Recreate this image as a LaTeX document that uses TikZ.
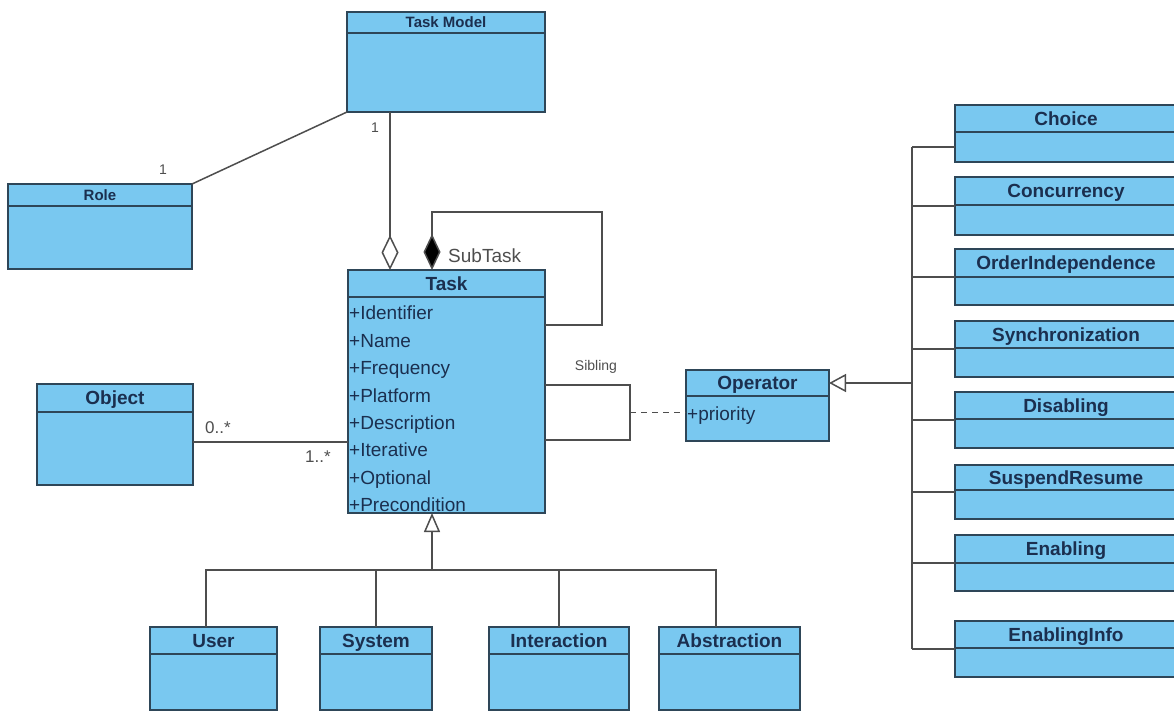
\documentclass[tikz,border=0pt]{standalone}
\usepackage{fontspec}
\setmainfont{Liberation Sans}
\usetikzlibrary{arrows.meta}

\definecolor{boxfill}{HTML}{79C8F0}
\definecolor{boxline}{HTML}{2E4658}
\definecolor{ink}{HTML}{1B2F4F}
\definecolor{wire}{HTML}{4E4E4E}

\newcommand{\bigtitle}{\bfseries\fontsize{19}{22}\selectfont}
\newcommand{\smalltitle}{\bfseries\fontsize{15}{18}\selectfont}

% #1 name, #2 x1, #3 y1, #4 x2, #5 y2, #6 header height, #7 title, #8 title font,
% #9 drop from header middle to the title baseline
\newcommand{\umlclass}[9]{%
  \node[classbox, minimum width={(#4)-(#2)}, minimum height={(#5)-(#3)},
        anchor=north west] (#1) at (#2,-#3) {};
  \draw[boxrule] ([yshift=-#6pt]#1.north west) -- ([yshift=-#6pt]#1.north east);
  \node[titletext, font=#8, anchor=base] (#1-title)
    at ([yshift=-#6pt/2-#9pt]#1.north) {#7};
}
\newcommand{\bigclass}[7]{\umlclass{#1}{#2}{#3}{#4}{#5}{#6}{#7}{\bigtitle}{6.8}}

\tikzset{
  classbox/.style={draw=boxline, fill=boxfill, line width=1.6pt,
                   inner sep=0pt, outer sep=0pt},
  boxrule/.style={draw=boxline, line width=1.6pt},
  titletext/.style={text=ink, inner sep=0pt},
  attr/.style={text=ink, inner sep=0pt, anchor=base west,
               font=\fontsize{19}{22}\selectfont},
  link/.style={draw=wire, line width=1.5pt},
  gen/.style={link, -{Triangle[open, length=17pt, width=18pt, fill=white]}},
  genup/.style={link, -{Triangle[open, length=19pt, width=16pt, fill=white]}},
  agg/.style={link, -{Diamond[open, length=35pt, width=17pt, fill=white]}},
  comp/.style={link, -{Diamond[length=36pt, width=17pt, fill=black]}},
  role/.style={text=wire, inner sep=0pt, font=\fontsize{14}{16}\selectfont},
  mult/.style={text=wire, inner sep=0pt, font=\fontsize{17}{19}\selectfont},
}

\begin{document}
\begin{tikzpicture}[x=1pt, y=1pt]
\clip (0,0) rectangle (1174,-713);
\fill[white] (0,0) rectangle (1174,-713);

% classes
\umlclass{taskmodel}{347}{12}{545}{112}{21}{Task Model}{\smalltitle}{5.4}
\umlclass{role}{8}{184}{192}{269}{22}{Role}{\smalltitle}{5.4}
\bigclass{task}{348}{270}{545}{513}{27}{Task}
\bigclass{object}{37}{384}{193}{485}{28}{Object}
\bigclass{operator}{686}{370}{829}{441}{26}{Operator}

\bigclass{choice}{955}{105}{1177}{162}{27}{Choice}
\bigclass{concurrency}{955}{177}{1177}{235}{28}{Concurrency}
\bigclass{orderind}{955}{249}{1177}{305}{28}{OrderIndependence}
\bigclass{sync}{955}{321}{1177}{377}{27}{Synchronization}
\bigclass{disabling}{955}{392}{1177}{448}{27}{Disabling}
\bigclass{suspend}{955}{465}{1177}{519}{25}{SuspendResume}
\bigclass{enabling}{955}{535}{1177}{591}{28}{Enabling}
\bigclass{enablinginfo}{955}{621}{1177}{677}{27}{EnablingInfo}

\bigclass{user}{150}{627}{277}{710}{27}{User}
\bigclass{system}{320}{627}{432}{710}{27}{System}
\bigclass{interaction}{489}{627}{629}{710}{27}{Interaction}
\bigclass{abstraction}{659}{627}{800}{710}{27}{Abstraction}

% attributes (baselines)
\node[attr] (a1) at (349,-319.8) {+Identifier};
\node[attr] (a2) at (349,-347.2) {+Name};
\node[attr] (a3) at (349,-374.6) {+Frequency};
\node[attr] (a4) at (349,-402) {+Platform};
\node[attr] (a5) at (349,-429.4) {+Description};
\node[attr] (a6) at (349,-456.8) {+Iterative};
\node[attr] (a7) at (349,-484.2) {+Optional};
\node[attr] (a8) at (349,-511.4) {+Precondition};
\node[attr] (p1) at (687,-420.8) {+priority};

% Task Model -- Role
\draw[link] (taskmodel.south west) -- (role.north east);
\node[role] (m1) at (163,-170) {1};
\node[role] (m2) at (375,-128) {1};

% Task Model <>-- Task
\coordinate (aggtop) at ([xshift=-56pt]taskmodel.south);
\draw[agg] (aggtop) -- (aggtop |- task.north);

% SubTask self composition
\coordinate (subloop) at (602,-212);
\coordinate (subfoot) at ([xshift=-14.5pt]task.north);
\draw[comp] ([yshift=66.5pt]task.east) -| (subloop) -| (subfoot);
\node[text=wire, inner sep=0pt, anchor=base west, font=\fontsize{19}{22}\selectfont]
  (subtask) at (448,-262.5) {SubTask};

% Object -- Task
\coordinate (objlink) at ([yshift=-7.5pt]object.east);
\draw[link] (objlink) -- (objlink -| task.west);
\node[mult] (m3) at (218,-428) {0..*};
\node[mult] (m4) at (318,-457) {1..*};

% Sibling association with Operator as association class
\coordinate (sibR) at (630,-412.5);
\draw[link] ([yshift=6.5pt]task.east) -| (sibR) |- ([yshift=-48.5pt]task.east);
\draw[link, dashed, dash pattern=on 6pt off 5pt] (sibR) -- (sibR -| operator.west);
\node[role] (sib) at (596,-367) {Sibling};

% Operator specialisations
\coordinate (opbus) at (912,-383);
\coordinate (choiceport) at ([yshift=-13.5pt]choice.west);
\draw[gen] (opbus) -- (opbus -| operator.east);
\draw[link] (choiceport -| opbus) -- (enablinginfo.west -| opbus);
\draw[link] (choiceport -| opbus) -- (choiceport);
\foreach \n in {concurrency, orderind, sync, disabling, suspend, enabling, enablinginfo}
  \draw[link] (\n.west -| opbus) -- (\n.west);

% Task specialisations
\coordinate (taskbus) at (432,-570);
\coordinate (userport) at ([xshift=-7.5pt]user.north);
\coordinate (absport) at ([xshift=-13.5pt]abstraction.north);
\draw[genup] (taskbus) -- (taskbus |- task.south);
\draw[link] (userport) |- (taskbus) -| (absport);
\draw[link] (system.north) -- (system.north |- taskbus);
\draw[link] (interaction.north) -- (interaction.north |- taskbus);
\end{tikzpicture}
\end{document}
